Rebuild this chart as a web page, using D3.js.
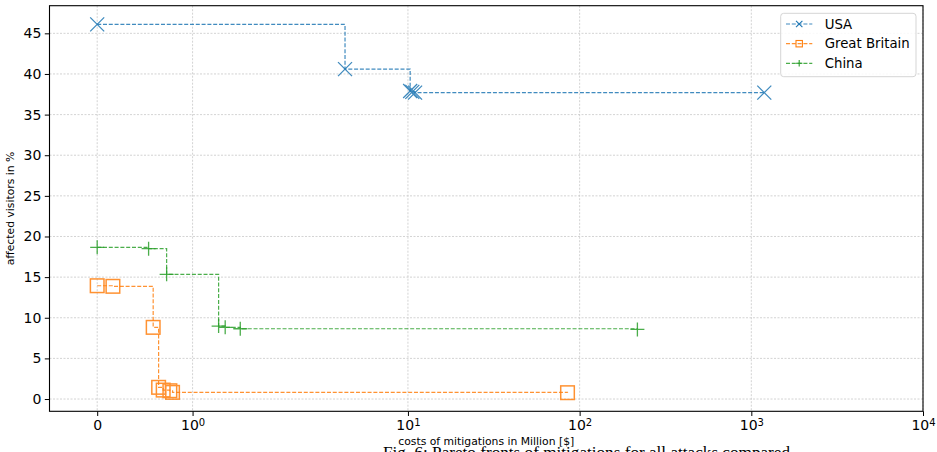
<!DOCTYPE html>
<html>
<head>
<meta charset="utf-8">
<script src="https://cdn.jsdelivr.net/npm/d3@7/dist/d3.min.js"></script>
<style>
  html, body { margin: 0; padding: 0; background: #fff; }
  svg { display: block; font-family: "DejaVu Sans", sans-serif; }
</style>
</head>
<body>
<svg id="chart" width="937" height="452"></svg>
<script>
// ---- data ----
const usaX = [0, 4.3, 10.3, 10.6, 11.0, 1190];
const usaY = [46.1, 40.6, 37.9, 37.8, 37.7, 37.7];
const gbX = [0, 0.165, 0.587, 0.644, 0.692, 0.762, 0.79, 85];
const gbY = [13.94, 13.87, 8.82, 1.44, 1.1, 1.02, 0.82, 0.78];
const cnX = [0, 0.539, 0.728, 1.273, 1.342, 1.5, 217];
const cnY = [18.67, 18.5, 15.34, 8.98, 8.82, 8.65, 8.57];
const xTickValues = [0, 1, 10, 100, 1000, 10000];
const xTickLabels = [["0", ""], ["10", "0"], ["10", "1"], ["10", "2"], ["10", "3"], ["10", "4"]];
const yTickValues = [0, 5, 10, 15, 20, 25, 30, 35, 40, 45];
const seriesNames = ["USA", "Great Britain", "China"];
const seriesColors = ["#1f77b4", "#ff7f0e", "#2ca02c"];
const seriesMarkers = ["x", "square", "plus"];
const xLabel = "costs of mitigations in Million [$]";
const yLabel = "affected visitors in %";
const caption = "Fig. 6: Pareto fronts of mitigations for all attacks compared";

// ---- symlog transform (linthresh 2, linscale 1, base 10) ----
const LT = 2, LS = 1 / (1 - 1 / 10);
function symlog(v) {
  const a = Math.abs(v);
  const t = a <= LT ? a / LT * LS : LS + Math.log10(a / LT);
  return v < 0 ? -t : t;
}

const svg = d3.select("#chart");
const L = 49.5, R = 923, T = 5.7, B = 411.3;
const xLin = d3.scaleLinear().domain([symlog(-0.5), symlog(10000)]).range([L, R]);
const x = v => xLin(symlog(v));
const y = d3.scaleLinear().domain([-1.51, 48.4]).range([B, T]);

// caption (cut off by the window bottom) drawn first, underneath
svg.append("text").attr("x", 383).attr("y", 457.5).attr("font-size", 17)
  .attr("textLength", 407).attr("lengthAdjust", "spacingAndGlyphs")
  .attr("font-family", "Liberation Serif, serif").attr("fill", "#000").text(caption);

// grid
const grid = svg.append("g");
xTickValues.forEach(v => {
  grid.append("line").attr("x1", x(v)).attr("x2", x(v)).attr("y1", T).attr("y2", B)
    .attr("stroke", "#c8c8c8").attr("stroke-width", 0.8).attr("stroke-dasharray", "2,1.5");
});
yTickValues.forEach(v => {
  grid.append("line").attr("x1", L).attr("x2", R).attr("y1", y(v)).attr("y2", y(v))
    .attr("stroke", "#c8c8c8").attr("stroke-width", 0.8).attr("stroke-dasharray", "2,1.5");
});

// axes
const xAxis = d3.axisBottom(xLin).tickValues(xTickValues.map(symlog)).tickSize(4.7).tickPadding(4).tickFormat(() => "");
const gx = svg.append("g").attr("transform", `translate(0,${B})`).call(xAxis);
gx.select(".domain").remove();
gx.selectAll(".tick line").attr("stroke", "#000").attr("stroke-width", 1);
gx.selectAll(".tick text").each(function(d, i) {
  const t = d3.select(this).attr("font-size", 14).attr("fill", "#000").attr("font-family", "DejaVu Sans");
  const lab = xTickLabels[i];
  t.text(null);
  t.append("tspan").text(lab[0]);
  if (lab[1]) t.append("tspan").attr("font-size", 10).attr("dy", "-0.45em").text(lab[1]);
});
gx.selectAll(".tick text").attr("dy", "0.71em").attr("y", 8.8);

const yAxis = d3.axisLeft(y).tickValues(yTickValues).tickSize(4.7).tickPadding(3.5);
const gy = svg.append("g").attr("transform", `translate(${L},0)`).call(yAxis);
gy.select(".domain").remove();
gy.selectAll(".tick line").attr("stroke", "#000").attr("stroke-width", 1);
gy.selectAll(".tick text").attr("font-size", 14).attr("fill", "#000").attr("font-family", "DejaVu Sans");

// series
const data = [
  usaX.map((v, i) => [v, usaY[i]]),
  gbX.map((v, i) => [v, gbY[i]]),
  cnX.map((v, i) => [v, cnY[i]])
];
const line = d3.line().x(d => x(d[0])).y(d => y(d[1])).curve(d3.curveStepAfter);

function drawMarker(g, type, cx, cy, s, color, sw) {
  if (type === "x") {
    g.append("path").attr("d", `M${cx - s},${cy - s}L${cx + s},${cy + s}M${cx - s},${cy + s}L${cx + s},${cy - s}`)
      .attr("stroke", color).attr("stroke-width", sw).attr("fill", "none");
  } else if (type === "plus") {
    g.append("path").attr("d", `M${cx - s},${cy}L${cx + s},${cy}M${cx},${cy - s}L${cx},${cy + s}`)
      .attr("stroke", color).attr("stroke-width", sw).attr("fill", "none");
  } else {
    g.append("rect").attr("x", cx - s).attr("y", cy - s).attr("width", 2 * s).attr("height", 2 * s)
      .attr("stroke", color).attr("stroke-width", sw).attr("fill", "none");
  }
}

data.forEach((pts, k) => {
  const g = svg.append("g");
  g.append("path").datum(pts).attr("d", line).attr("fill", "none")
    .attr("stroke", seriesColors[k]).attr("stroke-width", 1.2).attr("stroke-dasharray", "4,1.8")
    .attr("stroke-opacity", 0.85);
  const mg = g.append("g").attr("opacity", 0.85);
  pts.forEach(p => {
    const s = seriesMarkers[k] === "square" ? 6.8 : 7;
    drawMarker(mg, seriesMarkers[k], x(p[0]), y(p[1]), s, seriesColors[k], seriesMarkers[k] === "square" ? 1.5 : 1.3);
  });
});

// spines
svg.append("rect").attr("x", L).attr("y", T).attr("width", R - L).attr("height", B - T)
  .attr("fill", "none").attr("stroke", "#000").attr("stroke-width", 1.1);

// legend
const lg = svg.append("g");
lg.append("rect").attr("x", 780.7).attr("y", 13.3).attr("width", 135.3).attr("height", 63.4)
  .attr("rx", 3).attr("fill", "#fff").attr("fill-opacity", 0.85).attr("stroke", "#d5d5d5").attr("stroke-width", 1);
const legY = [24, 43.7, 63.3];
seriesNames.forEach((n, k) => {
  const yy = legY[k];
  lg.append("line").attr("x1", 786).attr("x2", 812.3).attr("y1", yy).attr("y2", yy)
    .attr("stroke", seriesColors[k]).attr("stroke-width", 1.2).attr("stroke-dasharray", "4,1.8").attr("stroke-opacity", 0.85);
  drawMarker(lg, seriesMarkers[k], 799.2, yy, 3.2, seriesColors[k], 1.1);
  lg.append("text").attr("x", 824.7).attr("y", yy).attr("dy", "0.36em").attr("font-size", 13.3)
    .attr("fill", "#000").text(n);
});

// axis labels
svg.append("text").attr("x", (L + R) / 2).attr("y", 445).attr("text-anchor", "middle")
  .attr("font-size", 10.8).attr("fill", "#000").text(xLabel);
svg.append("text").attr("transform", `translate(14,${(T + B) / 2}) rotate(-90)`).attr("text-anchor", "middle")
  .attr("font-size", 10.8).attr("fill", "#000").text(yLabel);
</script>
</body>
</html>
